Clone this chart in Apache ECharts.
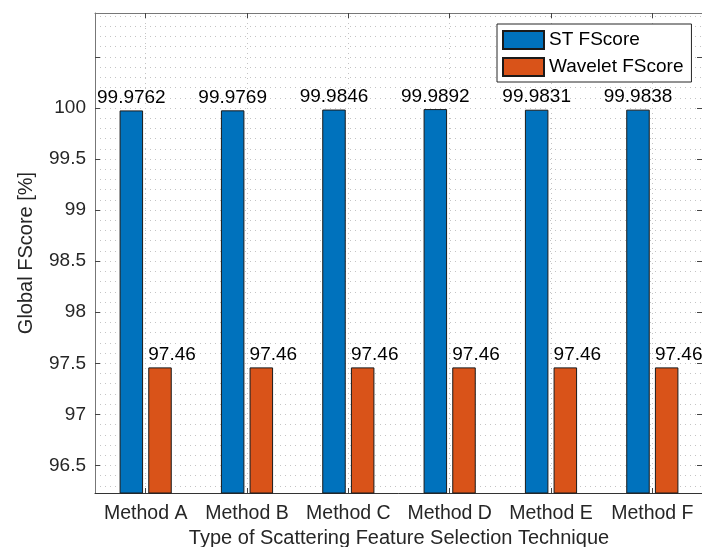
<!DOCTYPE html>
<html>
<head>
<meta charset="utf-8">
<script src="https://cdn.jsdelivr.net/npm/echarts@6/dist/echarts.min.js"></script>
<style>html,body{margin:0;padding:0;background:#fff;}#c{width:702px;height:547px;}</style>
</head>
<body>
<div id="c"></div>
<script>
const categories = ['Method A', 'Method B', 'Method C', 'Method D', 'Method E', 'Method F'];
const stFScore = [99.9762, 99.9769, 99.9846, 99.9892, 99.9831, 99.9838];
const waveletFScore = [97.46, 97.46, 97.46, 97.46, 97.46, 97.46];
const yLabelTicks = [96.5, 97, 97.5, 98, 98.5, 99, 99.5, 100];
const yMajorTicks = [96.5, 97, 97.5, 98, 98.5, 99, 99.5, 100, 100.5];
const yMinorTicks = [96.3, 96.4, 96.5, 96.6, 96.7, 96.8, 96.9, 97.0, 97.1, 97.2, 97.3, 97.4, 97.5, 97.6, 97.7, 97.8, 97.9,
  98.0, 98.1, 98.2, 98.3, 98.4, 98.5, 98.6, 98.7, 98.8, 98.9, 99.0, 99.1, 99.2, 99.3, 99.4, 99.5, 99.6, 99.7, 99.8, 99.9,
  100.0, 100.1, 100.2, 100.3, 100.4, 100.5, 100.6, 100.7, 100.8, 100.9];
const xCenterTicks = [1, 2, 3, 4, 5, 6];
const yMin = 96.23, yMax = 100.93;

const FONT = "'Liberation Sans', Helvetica, Arial, sans-serif";
const TXT = '#262626';
const gridLine = { show: true, lineStyle: { color: '#c4c4c4', width: 1, type: [1, 4] } };

const chart = echarts.init(document.getElementById('c'), null, { renderer: 'canvas' });
chart.setOption({
  animation: false,
  backgroundColor: '#fff',
  textStyle: { fontFamily: FONT },
  grid: { left: 95, top: 13, right: -1, height: 480, containLabel: false, outerBoundsMode: 'none' },
  legend: {
    left: 497, top: 24, orient: 'vertical', icon: 'rect',
    itemWidth: 41, itemHeight: 18, itemGap: 7,
    padding: [6, 8, 5, 5],
    backgroundColor: '#fff', borderColor: '#262626', borderWidth: 1, borderRadius: 0,
    textStyle: { fontFamily: FONT, fontSize: 19, color: '#000', lineHeight: 18 },
    data: ['ST FScore', 'Wavelet FScore']
  },
  xAxis: [
    {
      type: 'category', data: categories, position: 'bottom', boundaryGap: true,
      axisLine: { show: true, lineStyle: { color: '#333', width: 1 } },
      axisTick: { show: true, inside: true, alignWithLabel: true, length: 5, lineStyle: { color: '#444' } },
      axisLabel: { interval: 0, hideOverlap: false, fontFamily: FONT, fontSize: 19.5, color: TXT, margin: 11 },
      splitLine: { show: false },
      name: 'Type of Scattering Feature Selection Technique', nameLocation: 'middle', nameGap: 35,
      nameTextStyle: { fontFamily: FONT, fontSize: 20, color: TXT }
    },
    {
      type: 'value', min: 0.5, max: 6.5, position: 'bottom',
      axisLine: { show: false }, axisLabel: { show: false },
      axisTick: { show: false, customValues: xCenterTicks },
      splitLine: gridLine
    },
    {
      type: 'category', data: categories, position: 'top', boundaryGap: true,
      axisLine: { show: true, lineStyle: { color: '#777', width: 1 } },
      axisTick: { show: true, inside: true, alignWithLabel: true, length: 5, lineStyle: { color: '#444' } },
      axisLabel: { show: false }, splitLine: { show: false }
    }
  ],
  yAxis: [
    {
      type: 'value', min: yMin, max: yMax, position: 'left',
      axisLine: { show: true, lineStyle: { color: '#777', width: 1 } },
      axisTick: { show: true, inside: true, length: 5, customValues: yMajorTicks, lineStyle: { color: '#444' } },
      axisLabel: { customValues: yLabelTicks, fontFamily: FONT, fontSize: 19, color: TXT, margin: 9 },
      splitLine: { show: false },
      name: 'Global FScore [%]', nameLocation: 'middle', nameGap: 59,
      nameTextStyle: { fontFamily: FONT, fontSize: 20, color: TXT }
    },
    {
      type: 'value', min: yMin, max: yMax, position: 'left',
      axisLine: { show: false }, axisLabel: { show: false },
      axisTick: { show: false, customValues: yMinorTicks },
      splitLine: gridLine
    },
    {
      type: 'value', min: yMin, max: yMax, position: 'right',
      axisLine: { show: true, lineStyle: { color: '#777', width: 1 } },
      axisTick: { show: true, inside: true, length: 6, customValues: yMajorTicks, lineStyle: { color: '#444' } },
      axisLabel: { show: false }, splitLine: { show: false }
    }
  ],
  series: [
    {
      name: 'ST FScore', type: 'bar', xAxisIndex: 0, yAxisIndex: 0,
      data: stFScore, barWidth: 23.5, barGap: '22%',
      itemStyle: { color: '#0072BD', borderColor: '#1a1a1a', borderWidth: 1 },
      label: { show: true, position: 'top', distance: 3, fontFamily: FONT, fontSize: 19, color: '#000',
        formatter: p => String(p.value) }
    },
    {
      name: 'Wavelet FScore', type: 'bar', xAxisIndex: 0, yAxisIndex: 0,
      data: waveletFScore, barWidth: 23.5, barGap: '22%',
      itemStyle: { color: '#D95319', borderColor: '#1a1a1a', borderWidth: 1 },
      label: { show: true, position: [0, -3], align: 'left', verticalAlign: 'bottom',
        fontFamily: FONT, fontSize: 19, color: '#000', formatter: p => String(p.value) }
    }
  ]
});
</script>
</body>
</html>
